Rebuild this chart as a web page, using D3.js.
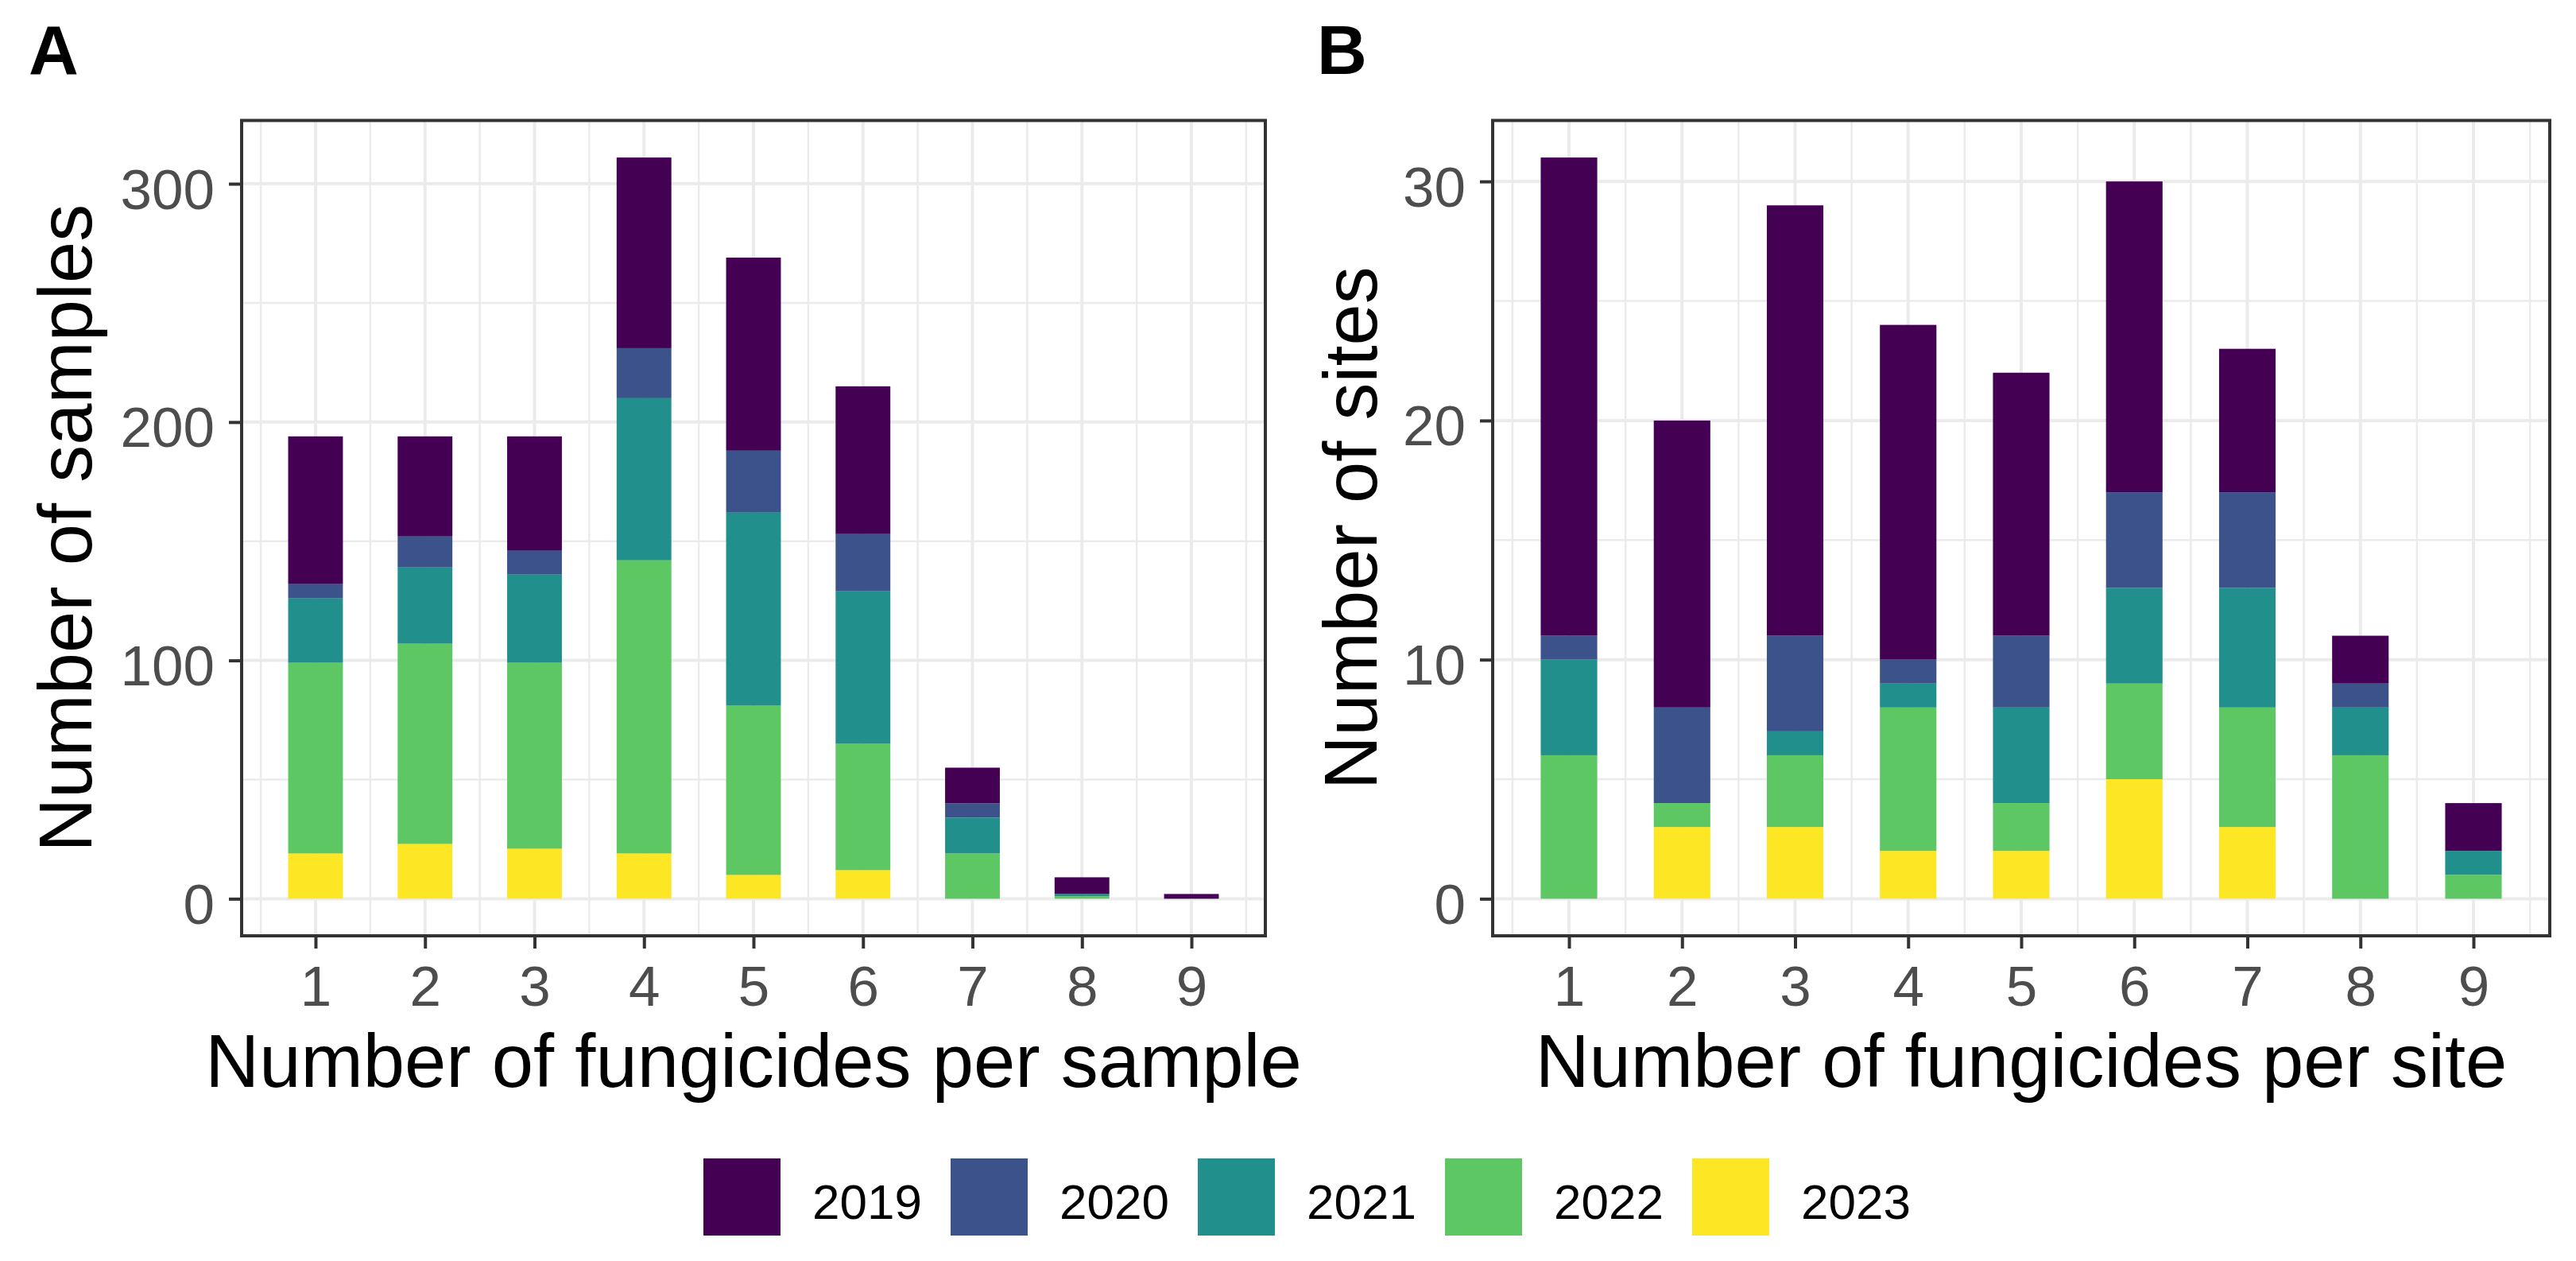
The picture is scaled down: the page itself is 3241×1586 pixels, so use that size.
<!DOCTYPE html>
<html>
<head>
<meta charset="utf-8">
<script src="https://cdn.jsdelivr.net/npm/d3@7"></script>
<style>
  body { margin: 0; background: #fff; }
  svg { display: block; }
  text { font-family: "Liberation Sans", Arial, sans-serif; }
</style>
</head>
<body>
<svg id="chart" width="3241" height="1586"></svg>
<script>
// years, bottom of the stack is the last one
const years = ["2019", "2020", "2021", "2022", "2023"];
const yearColors = ["#440154", "#3B528B", "#21908C", "#5DC863", "#FDE725"];
const fungicideCounts = [1, 2, 3, 4, 5, 6, 7, 8, 9];

// panel A: number of samples
const samples2019 = [62, 42, 48, 80, 81, 62, 15, 7, 2];
const samples2020 = [6, 13, 10, 21, 26, 24, 6, 0, 0];
const samples2021 = [27, 32, 37, 68, 81, 64, 15, 1, 0];
const samples2022 = [80, 84, 78, 123, 71, 53, 19, 1, 0];
const samples2023 = [19, 23, 21, 19, 10, 12, 0, 0, 0];
const sampleTicks = [0, 100, 200, 300];
const sampleMinor = [50, 150, 250];

// panel B: number of sites
const sites2019 = [20, 12, 18, 14, 11, 13, 6, 2, 2];
const sites2020 = [1, 4, 4, 1, 3, 4, 4, 1, 0];
const sites2021 = [4, 0, 1, 1, 4, 4, 5, 2, 1];
const sites2022 = [6, 1, 3, 6, 2, 4, 5, 6, 1];
const sites2023 = [0, 3, 3, 2, 2, 5, 3, 0, 0];
const siteTicks = [0, 10, 20, 30];
const siteMinor = [5, 15, 25];

const BAR_WIDTH = 0.5;
const PANEL_TOP = 151.5;
const PANEL_BOTTOM = 1177;
const GRID_COLOR = "#EBEBEB";
const AXIS_COLOR = "#333333";
const TICK_TEXT = "#4D4D4D";

const svg = d3.select("#chart");
const color = d3.scaleOrdinal().domain(years).range(yearColors);

function buildRows(series) {
    return fungicideCounts.map((n, i) => {
        const row = { n: n };
        years.forEach((y, k) => { row[y] = series[k][i]; });
        return row;
    });
}

function drawPanel(opts) {
    const rows = buildRows(opts.series);
    const stackKeys = years.slice().reverse(); // 2023 at the bottom
    const stacked = d3.stack().keys(stackKeys)(rows);
    const maxTotal = d3.max(rows, r => d3.sum(years, y => r[y]));

    // ggplot style continuous scales with 5% expansion
    const xLo = 1 - BAR_WIDTH / 2, xHi = 9 + BAR_WIDTH / 2;
    const xPad = (xHi - xLo) * 0.05;
    const x = d3.scaleLinear()
        .domain([xLo - xPad, xHi + xPad])
        .range([opts.left, opts.right]);
    const y = d3.scaleLinear()
        .domain([-maxTotal * 0.05, maxTotal * 1.05])
        .range([PANEL_BOTTOM, PANEL_TOP]);

    const g = svg.append("g");

    // minor grid
    const minorX = d3.range(0.5, 10, 1);
    g.selectAll(".minor-x").data(minorX).enter().append("line")
        .attr("x1", d => x(d)).attr("x2", d => x(d))
        .attr("y1", PANEL_TOP).attr("y2", PANEL_BOTTOM)
        .attr("stroke", GRID_COLOR).attr("stroke-width", 2.5);
    g.selectAll(".minor-y").data(opts.minor).enter().append("line")
        .attr("x1", opts.left).attr("x2", opts.right)
        .attr("y1", d => y(d)).attr("y2", d => y(d))
        .attr("stroke", GRID_COLOR).attr("stroke-width", 2.5);

    // major grid
    g.selectAll(".major-x").data(fungicideCounts).enter().append("line")
        .attr("x1", d => x(d)).attr("x2", d => x(d))
        .attr("y1", PANEL_TOP).attr("y2", PANEL_BOTTOM)
        .attr("stroke", GRID_COLOR).attr("stroke-width", 4);
    g.selectAll(".major-y").data(opts.ticks).enter().append("line")
        .attr("x1", opts.left).attr("x2", opts.right)
        .attr("y1", d => y(d)).attr("y2", d => y(d))
        .attr("stroke", GRID_COLOR).attr("stroke-width", 4);

    // stacked bars
    const bw = x(BAR_WIDTH) - x(0);
    g.selectAll(".layer").data(stacked).enter().append("g")
        .attr("fill", d => color(d.key))
        .selectAll("rect")
        .data(d => d.filter(p => p[1] - p[0] > 0))
        .enter().append("rect")
        .attr("x", d => x(d.data.n) - bw / 2)
        .attr("width", bw)
        .attr("y", d => y(d[1]))
        .attr("height", d => y(d[0]) - y(d[1]));

    // panel border
    g.append("rect")
        .attr("x", opts.left).attr("y", PANEL_TOP)
        .attr("width", opts.right - opts.left)
        .attr("height", PANEL_BOTTOM - PANEL_TOP)
        .attr("fill", "none")
        .attr("stroke", AXIS_COLOR).attr("stroke-width", 4);

    // y axis
    const yAxis = d3.axisLeft(y).tickValues(opts.ticks).tickSize(16).tickPadding(18);
    const ya = g.append("g").attr("transform", `translate(${ opts.left },0)`).call(yAxis);
    ya.select(".domain").remove();
    ya.selectAll(".tick line").attr("stroke", AXIS_COLOR).attr("stroke-width", 4);
    ya.selectAll(".tick text")
        .attr("fill", TICK_TEXT)
        .attr("font-size", 71)
        .attr("font-family", "'Liberation Sans', Arial, sans-serif")
        .attr("dy", null)
        .attr("dominant-baseline", "auto")
        .attr("transform", "translate(0,31)");

    // x axis
    const xAxis = d3.axisBottom(x).tickValues(fungicideCounts).tickSize(16).tickPadding(0);
    const xa = g.append("g").attr("transform", `translate(0,${ PANEL_BOTTOM })`).call(xAxis);
    xa.select(".domain").remove();
    xa.selectAll(".tick line").attr("stroke", AXIS_COLOR).attr("stroke-width", 4);
    xa.selectAll(".tick text")
        .attr("fill", TICK_TEXT)
        .attr("font-size", 71)
        .attr("font-family", "'Liberation Sans', Arial, sans-serif")
        .attr("y", 88)
        .attr("dy", null);

    // axis titles
    g.append("text")
        .attr("x", (opts.left + opts.right) / 2)
        .attr("y", 1367)
        .attr("text-anchor", "middle")
        .attr("font-size", 94)
        .attr("fill", "#000")
        .text(opts.xTitle);
    g.append("text")
        .attr("transform", `translate(${ opts.yTitleX },${ (PANEL_TOP + PANEL_BOTTOM) / 2 }) rotate(-90)`)
        .attr("text-anchor", "middle")
        .attr("font-size", 94)
        .attr("fill", "#000")
        .text(opts.yTitle);

    // panel tag
    svg.append("text")
        .attr("x", opts.tagX).attr("y", 93)
        .attr("font-size", 87)
        .attr("font-weight", "bold")
        .attr("fill", "#000")
        .text(opts.tag);
}

drawPanel({
    tag: "A", tagX: 36,
    left: 304, right: 1592,
    series: [samples2019, samples2020, samples2021, samples2022, samples2023],
    ticks: sampleTicks, minor: sampleMinor,
    xTitle: "Number of fungicides per sample",
    yTitle: "Number of samples",
    yTitleX: 115
});

drawPanel({
    tag: "B", tagX: 1657,
    left: 1878, right: 3208,
    series: [sites2019, sites2020, sites2021, sites2022, sites2023],
    ticks: siteTicks, minor: siteMinor,
    xTitle: "Number of fungicides per site",
    yTitle: "Number of sites",
    yTitleX: 1732
});

// legend along the bottom
const KEY_SIZE = 97;
const LEGEND_PITCH = 311;
const legendX = d3.scalePoint().domain(years).range([885, 885 + LEGEND_PITCH * 4]);
const legend = svg.append("g").selectAll("g").data(years).enter().append("g")
    .attr("transform", d => `translate(${ legendX(d) },1457)`);
legend.append("rect")
    .attr("width", KEY_SIZE).attr("height", KEY_SIZE)
    .attr("fill", d => color(d));
legend.append("text")
    .attr("x", KEY_SIZE + 40).attr("y", 76)
    .attr("font-size", 62)
    .attr("fill", "#000")
    .text(d => d);
</script>
</body>
</html>
